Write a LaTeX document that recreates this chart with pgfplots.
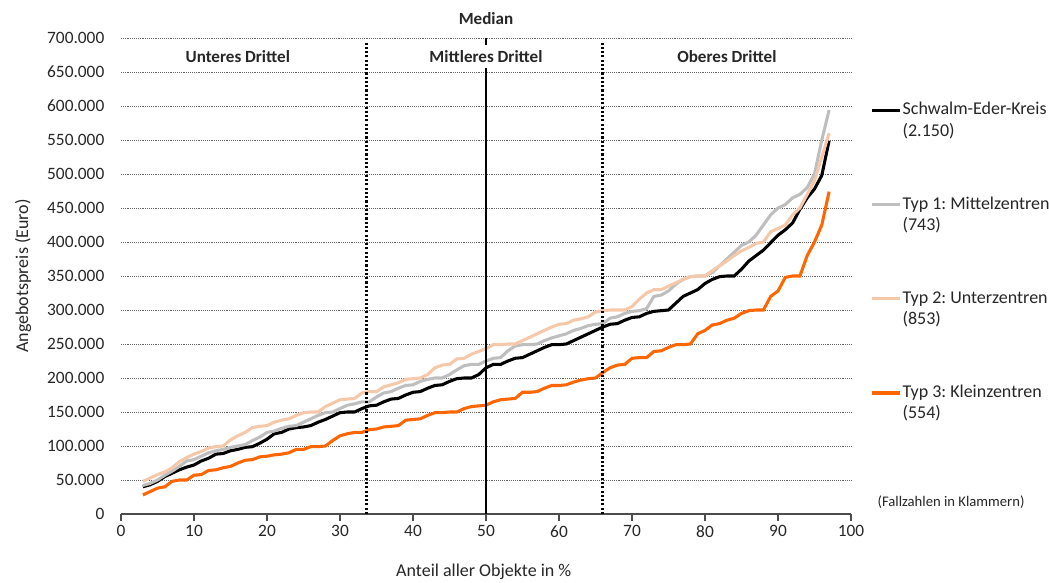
\documentclass[border=0pt]{standalone}
\usepackage{pgfplots}
\usepackage{pgfplotstable}
\pgfplotsset{compat=1.18}
\usepackage{fontspec}
\setmainfont{Carlito}
\frenchspacing
\definecolor{cgray}{RGB}{190,190,190}
\definecolor{cpeach}{RGB}{246,200,170}
\definecolor{corange}{RGB}{255,102,0}

\pgfplotstableread{
x sek t1 t2 t3
3 40000 42000 48000 28000
4 43000 45000 53000 33000
5 48000 50000 58000 38000
6 55000 57000 62000 40000
7 60000 63000 68000 48000
8 65000 70000 77000 50000
9 69000 78000 83000 50000
10 72000 80000 88000 57000
11 78000 85000 92000 58000
12 82000 90000 97000 64000
13 88000 93000 99000 65000
14 89000 95000 100000 68000
15 93000 98000 109000 70000
16 95000 100000 115000 75000
17 98000 102000 120000 79000
18 99000 108000 127000 80000
19 104000 113000 129000 84000
20 110000 120000 130000 85000
21 118000 122000 135000 87000
22 120000 126000 138000 88000
23 125000 129000 140000 90000
24 127000 130000 145000 95000
25 128000 135000 149000 95000
26 130000 140000 150000 99000
27 135000 145000 150000 99000
28 139000 149000 158000 100000
29 144000 150000 163000 108000
30 149000 155000 168000 115000
31 150000 160000 169000 118000
32 150000 162000 170000 120000
33 155000 165000 178000 120000
34 159000 165000 180000 124000
35 160000 172000 180000 125000
36 165000 178000 187000 128000
37 169000 180000 190000 129000
38 170000 185000 193000 130000
39 175000 189000 198000 138000
40 179000 190000 199000 139000
41 180000 195000 200000 140000
42 185000 198000 205000 145000
43 189000 200000 215000 149000
44 190000 200000 219000 149000
45 195000 205000 220000 150000
46 199000 212000 228000 150000
47 200000 218000 229000 155000
48 200000 220000 235000 158000
49 205000 220000 239000 159000
50 215000 225000 243000 160000
51 220000 229000 249000 165000
52 220000 230000 249000 168000
53 225000 240000 250000 169000
54 229000 247000 250000 170000
55 230000 249000 255000 179000
56 235000 249000 260000 179000
57 240000 250000 265000 180000
58 245000 255000 270000 185000
59 249000 259000 275000 189000
60 249000 262000 279000 189000
61 250000 265000 280000 190000
62 255000 270000 285000 194000
63 260000 273000 287000 197000
64 265000 277000 290000 199000
65 270000 279000 297000 200000
66 275000 280000 299000 208000
67 279000 288000 300000 215000
68 280000 290000 300000 219000
69 285000 295000 300000 220000
70 289000 298000 305000 229000
71 290000 299000 316000 230000
72 295000 302000 325000 230000
73 298000 320000 330000 239000
74 299000 322000 330000 240000
75 300000 328000 335000 245000
76 310000 338000 340000 249000
77 320000 345000 345000 249000
78 325000 349000 349000 250000
79 330000 350000 350000 265000
80 339000 350000 350000 270000
81 345000 355000 358000 278000
82 349000 365000 365000 280000
83 350000 375000 372000 285000
84 350000 385000 380000 288000
85 360000 395000 387000 295000
86 372000 400000 392000 299000
87 380000 410000 398000 300000
88 388000 425000 400000 300000
89 399000 440000 415000 320000
90 410000 450000 420000 328000
91 418000 455000 425000 348000
92 428000 465000 440000 350000
93 448000 470000 450000 350000
94 465000 480000 470000 380000
95 478000 500000 490000 400000
96 498000 550000 525000 425000
97 549000 594000 560000 474000
}\datatable

\begin{document}
\begin{tikzpicture}
\begin{axis}[
  name=ax,
  at={(0,0)}, anchor=south west,
  scale only axis,
  width=547.5pt, height=357pt,
  xmin=0, xmax=100, ymin=0, ymax=700000,
  xtick={0,10,...,100},
  ytick={0,50000,...,700000},
  scaled y ticks=false,
  /pgf/number format/.cd, 1000 sep={.}, fixed, assume math mode=true,
  /pgfplots/.cd,
  tick label style={font=\fontsize{13}{15}\selectfont, text=black!85},
  yticklabel style={xshift=-4pt},
  separate axis lines,
  axis x line*=bottom,
  axis y line*=left,
  x axis line style={-, black!70, line width=0.8pt},
  y axis line style={draw=none},
  xtick style={black!70, line width=0.8pt},
  ytick style={draw=none},
  tick align=outside,
  major tick length=5pt,
  ymajorgrids,
  major grid style={densely dotted, black!60, line width=0.6pt},
  clip=false,
  xlabel={Anteil aller Objekte in \%},
  ylabel={Angebotspreis (Euro)},
  label style={font=\fontsize{13.5}{15}\selectfont, text=black!85},
  xlabel style={at={(axis description cs:0.497,-0.122)}, anchor=center},
  ylabel style={at={(axis description cs:-0.134,0.5)}, anchor=center},
  legend style={at={(axis description cs:1.026,0.868)}, anchor=north west,
    draw=none, fill=none, font=\fontsize{13.5}{16}\selectfont,
    row sep=42pt, inner sep=0pt,
    nodes={inner sep=1pt, align=left, text=black!85}},
  legend cell align=left,
  legend image code/.code={\draw[#1] (0pt,7.5pt) -- (21pt,7.5pt);},
]
\addplot[black, line width=2.3pt] table[x=x, y=sek] {\datatable};
\addlegendentry{Schwalm-Eder-Kreis\\(2.150)}
\addplot[cgray, line width=2.3pt] table[x=x, y=t1] {\datatable};
\addlegendentry{Typ 1: Mittelzentren\\(743)}
\addplot[cpeach, line width=2.3pt] table[x=x, y=t2] {\datatable};
\addlegendentry{Typ 2: Unterzentren\\(853)}
\addplot[corange, line width=2.3pt] table[x=x, y=t3] {\datatable};
\addlegendentry{Typ 3: Kleinzentren\\(554)}

\draw[black, line width=1.6pt] (axis cs:50,0) -- (axis cs:50,700000);
\draw[black, line width=2.2pt, dash pattern=on 1.6pt off 1.6pt] (axis cs:33.6,0) -- (axis cs:33.6,692000);
\draw[black, line width=2.2pt, dash pattern=on 1.6pt off 1.6pt] (axis cs:66,0) -- (axis cs:66,692000);

\node[font=\bfseries\fontsize{12.8}{14}\selectfont, text=black!85] at (axis cs:16,673000) {Unteres Drittel};
\node[font=\bfseries\fontsize{12.8}{14}\selectfont, text=black!85, fill=white, inner sep=4pt] at (axis cs:50,673000) {Mittleres Drittel};
\node[font=\bfseries\fontsize{12.8}{14}\selectfont, text=black!85] at (axis cs:83,673000) {Oberes Drittel};
\node[font=\bfseries\fontsize{12.8}{14}\selectfont, text=black!85] at (axis description cs:0.5,1.04) {Median};
\node[font=\fontsize{11}{13}\selectfont, text=black!85, anchor=west] at (axis description cs:1.03,0.025) {(Fallzahlen in Klammern)};
\end{axis}
\pgfresetboundingbox
\path[use as bounding box] ([shift={(-90.75pt,-51pt)}]ax.south west) rectangle ([shift={(148.5pt,28.5pt)}]ax.north east);
\end{tikzpicture}
\end{document}
